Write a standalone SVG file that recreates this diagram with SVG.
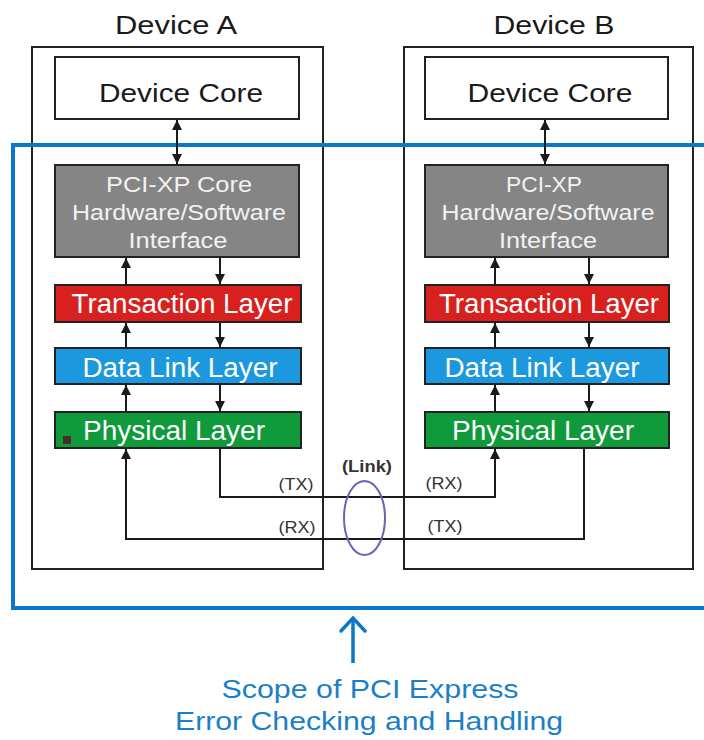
<svg xmlns="http://www.w3.org/2000/svg" width="704" height="740" viewBox="0 0 704 740">
  <style>
    .t { font-family: "Liberation Sans", Arial, sans-serif; text-anchor: middle; }
    .dark { fill: #1a1a1a; }
    .white { fill: #ffffff; }
    .box { stroke: #222; stroke-width: 2; }
    .dev { fill: none; stroke: #222; stroke-width: 2; }
    .wire { fill: none; stroke: #1a1a1a; stroke-width: 2; }
    .small { font-size: 16.5px; fill: #333; }
    .blue { fill: #1a7fc8; }
  </style>
  <defs>
    <marker id="ah" viewBox="0 0 10 10" refX="10" refY="5" markerWidth="10" markerHeight="11" markerUnits="userSpaceOnUse" orient="auto-start-reverse">
      <path d="M0,0 L10,5 L0,10 z" fill="#1a1a1a"/>
    </marker>
  </defs>

  <!-- Device titles -->
  <text class="t dark" x="176" y="34" font-size="26.5" textLength="122" lengthAdjust="spacingAndGlyphs">Device A</text>
  <text class="t dark" x="554" y="34" font-size="26.5" textLength="121" lengthAdjust="spacingAndGlyphs">Device B</text>

  <!-- Device outlines -->
  <g id="deviceA"><rect class="dev" x="32" y="47" width="291" height="522"/></g>
  <g id="deviceB"><rect class="dev" x="404" y="47" width="289" height="522"/></g>

  <!-- Device A stack -->
  <g id="coreA">
    <rect class="box" x="55" y="57" width="244" height="62" fill="#ffffff"/>
    <text class="t dark" x="181" y="102" font-size="26.5" textLength="164" lengthAdjust="spacingAndGlyphs">Device Core</text>
  </g>
  <g id="ifaceA">
    <rect class="box" x="55" y="165" width="244" height="92" fill="#858585"/>
    <text class="t" fill="#f2f2f2" x="179" y="192" font-size="22" textLength="146" lengthAdjust="spacingAndGlyphs">PCI-XP Core</text>
    <text class="t" fill="#f2f2f2" x="179" y="220" font-size="22" textLength="214" lengthAdjust="spacingAndGlyphs">Hardware/Software</text>
    <text class="t" fill="#f2f2f2" x="178" y="248" font-size="22" textLength="99" lengthAdjust="spacingAndGlyphs">Interface</text>
  </g>
  <g id="transA">
    <rect class="box" x="55" y="285" width="246" height="37" fill="#d8211f"/>
    <text class="t white" x="182" y="313" font-size="27" textLength="221" lengthAdjust="spacingAndGlyphs">Transaction Layer</text>
  </g>
  <g id="linkA">
    <rect class="box" x="55" y="348" width="246" height="36" fill="#1c98de"/>
    <text class="t white" x="180" y="377" font-size="27" textLength="195" lengthAdjust="spacingAndGlyphs">Data Link Layer</text>
  </g>
  <g id="physA">
    <rect class="box" x="55" y="412" width="246" height="36" fill="#0f9a3b"/>
    <rect x="63" y="436" width="8" height="8" fill="#4a2b2b"/>
    <text class="t white" x="174" y="440" font-size="27" textLength="182" lengthAdjust="spacingAndGlyphs">Physical Layer</text>
  </g>

  <!-- Device B stack -->
  <g id="coreB">
    <rect class="box" x="425" y="57" width="243" height="62" fill="#ffffff"/>
    <text class="t dark" x="550" y="102" font-size="26.5" textLength="165" lengthAdjust="spacingAndGlyphs">Device Core</text>
  </g>
  <g id="ifaceB">
    <rect class="box" x="425" y="165" width="243" height="92" fill="#858585"/>
    <text class="t" fill="#f2f2f2" x="544" y="192" font-size="22" textLength="76" lengthAdjust="spacingAndGlyphs">PCI-XP</text>
    <text class="t" fill="#f2f2f2" x="548" y="220" font-size="22" textLength="213" lengthAdjust="spacingAndGlyphs">Hardware/Software</text>
    <text class="t" fill="#f2f2f2" x="548" y="248" font-size="22" textLength="98" lengthAdjust="spacingAndGlyphs">Interface</text>
  </g>
  <g id="transB">
    <rect class="box" x="425" y="285" width="244" height="37" fill="#d8211f"/>
    <text class="t white" x="549" y="313" font-size="27" textLength="220" lengthAdjust="spacingAndGlyphs">Transaction Layer</text>
  </g>
  <g id="linkB">
    <rect class="box" x="425" y="348" width="244" height="36" fill="#1c98de"/>
    <text class="t white" x="542" y="377" font-size="27" textLength="195" lengthAdjust="spacingAndGlyphs">Data Link Layer</text>
  </g>
  <g id="physB">
    <rect class="box" x="425" y="412" width="244" height="36" fill="#0f9a3b"/>
    <text class="t white" x="543" y="440" font-size="27" textLength="182" lengthAdjust="spacingAndGlyphs">Physical Layer</text>
  </g>

  <!-- Scope boundary and its caption -->
  <g id="scope">
    <path d="M706,145 H13 V608 H706" fill="none" stroke="#0a77c8" stroke-width="4"/>
    <line x1="353" y1="663" x2="353" y2="619" stroke="#0a77c8" stroke-width="3.5"/>
    <path d="M341,631 L353,618 L365,631" fill="none" stroke="#0a77c8" stroke-width="3.5" stroke-linecap="round" stroke-linejoin="miter"/>
    <text class="t blue" x="370" y="698" font-size="26.5" textLength="297" lengthAdjust="spacingAndGlyphs">Scope of PCI Express</text>
    <text class="t blue" x="369" y="730" font-size="26.5" textLength="388" lengthAdjust="spacingAndGlyphs">Error Checking and Handling</text>
  </g>

  <!-- Connectors -->
  <g id="connectors">
    <line class="wire" x1="177" y1="120" x2="177" y2="164" marker-start="url(#ah)" marker-end="url(#ah)"/>
    <line class="wire" x1="126" y1="285" x2="126" y2="258" marker-end="url(#ah)"/>
    <line class="wire" x1="220" y1="258" x2="220" y2="284" marker-end="url(#ah)"/>
    <line class="wire" x1="126" y1="348" x2="126" y2="323" marker-end="url(#ah)"/>
    <line class="wire" x1="220" y1="323" x2="220" y2="347" marker-end="url(#ah)"/>
    <line class="wire" x1="126" y1="412" x2="126" y2="385" marker-end="url(#ah)"/>
    <line class="wire" x1="220" y1="385" x2="220" y2="411" marker-end="url(#ah)"/>

    <line class="wire" x1="545" y1="120" x2="545" y2="164" marker-start="url(#ah)" marker-end="url(#ah)"/>
    <line class="wire" x1="495" y1="285" x2="495" y2="258" marker-end="url(#ah)"/>
    <line class="wire" x1="589" y1="258" x2="589" y2="284" marker-end="url(#ah)"/>
    <line class="wire" x1="495" y1="348" x2="495" y2="323" marker-end="url(#ah)"/>
    <line class="wire" x1="589" y1="323" x2="589" y2="347" marker-end="url(#ah)"/>
    <line class="wire" x1="495" y1="412" x2="495" y2="385" marker-end="url(#ah)"/>
    <line class="wire" x1="589" y1="385" x2="589" y2="411" marker-end="url(#ah)"/>

    <!-- A transmit to B receive -->
    <path class="wire" d="M220,449 V497 H495 V449" marker-end="url(#ah)"/>
    <!-- B transmit to A receive -->
    <path class="wire" d="M584,449 V539 H126 V449" marker-end="url(#ah)"/>

    <ellipse cx="364.5" cy="518" rx="20.5" ry="37" fill="none" stroke="#6a62b4" stroke-width="2"/>
    <text class="t" x="367" y="472" font-size="17" font-weight="bold" fill="#333" textLength="50" lengthAdjust="spacingAndGlyphs">(Link)</text>
    <text class="t small" x="296" y="490" textLength="35" lengthAdjust="spacingAndGlyphs">(TX)</text>
    <text class="t small" x="297" y="533" textLength="37" lengthAdjust="spacingAndGlyphs">(RX)</text>
    <text class="t small" x="444" y="489" textLength="37" lengthAdjust="spacingAndGlyphs">(RX)</text>
    <text class="t small" x="445" y="532" textLength="35" lengthAdjust="spacingAndGlyphs">(TX)</text>
  </g>
</svg>
